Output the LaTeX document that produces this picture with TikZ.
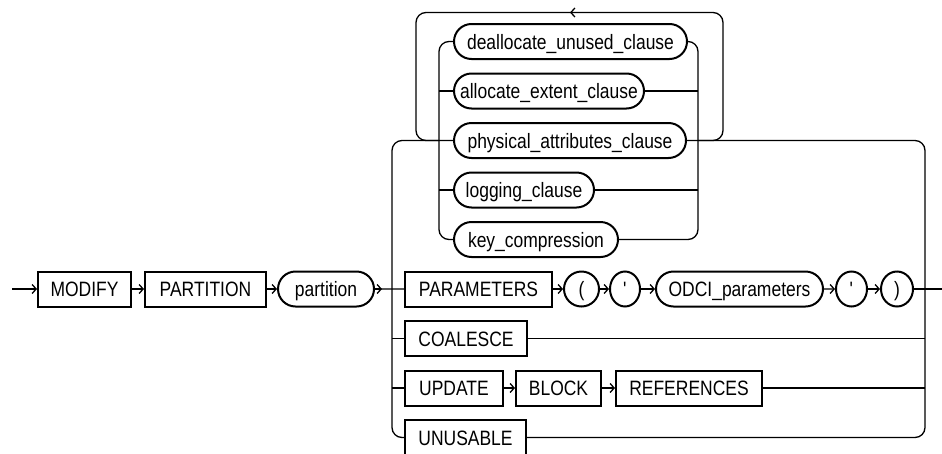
\documentclass[tikz,border=0pt]{standalone}
\usepackage{fontspec}
\setmainfont{Liberation Sans}[FakeStretch=0.84]
\usepackage{tikz}
\usetikzlibrary{positioning,arrows.meta,shapes.geometric,shapes.misc}

\begin{document}
\begin{tikzpicture}[x=1pt, y=-1pt,
  every node/.style={font=\fontsize{20.8}{21}\selectfont, text height=15pt, text depth=0pt,
    inner sep=0pt, minimum height=35pt, line width=2pt},
  kw/.style={draw, rectangle, anchor=west},
  nt/.style={draw, rounded rectangle, anchor=west},
  sym/.style={draw, ellipse, anchor=west},
  rail/.style={line width=1.3pt, rounded corners=10pt},
  tip/.style={-{Straight Barb[length=4pt,width=9pt]}}]
  \useasboundingbox (0,0) rectangle (942,453);

  % Rails
  \coordinate (start) at (12,289);
  \coordinate (end) at (942,289);
  \coordinate (lrail) at (392,0);
  \coordinate (rrail) at (925,0);
  \coordinate (ilrail) at (439,0);
  \coordinate (irrail) at (698,0);
  \coordinate (loopl) at (416,12.5);
  \coordinate (loopr) at (723,12.5);
  \coordinate (looptip) at (570,12.5);

  % Main row
  \node[kw, minimum width=93pt] (modify) at (37,289) {MODIFY};
  \node[kw, minimum width=121pt] (partkw) at (144,289) {PARTITION};
  \node[nt, minimum width=96pt] (partition) at (277,289) {partition};

  % Repeated clauses
  \node[nt, minimum width=233pt] (dealloc) at (453,41.5) {deallocate\_unused\_clause};
  \node[nt, minimum width=190pt] (allocate) at (453,91) {allocate\_extent\_clause};
  \node[nt, minimum width=232pt] (physical) at (453,140.5) {physical\_attributes\_clause};
  \node[nt, minimum width=140pt] (logging) at (453,190) {logging\_clause};
  \node[nt, minimum width=164pt] (keycomp) at (453,239.5) {key\_compression};

  % PARAMETERS branch
  \node[kw, minimum width=147pt] (params) at (404,289) {PARAMETERS};
  \node[sym, minimum width=35pt] (lparen) at (563,289) {(};
  \node[sym, minimum width=30pt] (quote1) at (609,289) {\textquotesingle};
  \node[nt, minimum width=167pt] (odci) at (655,289) {ODCI\_parameters};
  \node[sym, minimum width=31pt] (quote2) at (835,289) {\textquotesingle};
  \node[sym, minimum width=32pt] (rparen) at (880,289) {)};

  % Other branches
  \node[kw, minimum width=122pt] (coalesce) at (404,338.5) {COALESCE};
  \node[kw, minimum width=98pt] (update) at (404,388) {UPDATE};
  \node[kw, minimum width=85pt] (block) at (515,388) {BLOCK};
  \node[kw, minimum width=146pt] (references) at (615,388) {REFERENCES};
  \node[kw, minimum width=121pt] (unusable) at (404,437.5) {UNUSABLE};

  % Main line
  \draw[rail, tip] (start) -- (modify);
  \draw[rail, tip] (modify) -- (partkw);
  \draw[rail, tip] (partkw) -- (partition);
  \draw[rail] (partition) -- (params);
  \draw[rail, tip] (partition.east) -- ++(7,0);
  \draw[rail, tip] (params) -- (lparen);
  \draw[rail, tip] (lparen) -- (quote1);
  \draw[rail, tip] (quote1) -- (odci);
  \draw[rail, tip] (odci) -- (quote2);
  \draw[rail, tip] (quote2) -- (rparen);
  \draw[rail] (rparen) -- (end);

  % Outer choice
  \draw[rail] (unusable.west) -- (lrail |- unusable) -- (lrail |- physical) -- (physical.west);
  \draw[rail] (physical.east) -- (rrail |- physical) -- (rrail |- unusable) -- (unusable.east);
  \foreach \n in {coalesce, update}
    \draw[rail] (lrail |- \n) -- (\n.west);
  \draw[rail] (coalesce.east) -- (rrail |- coalesce);
  \draw[rail, tip] (update) -- (block);
  \draw[rail, tip] (block) -- (references);
  \draw[rail] (references.east) -- (rrail |- references);

  % Inner choice
  \draw[rail] (dealloc.west) -- (ilrail |- dealloc) -- (ilrail |- keycomp) -- (keycomp.west);
  \draw[rail] (dealloc.east) -- (irrail |- dealloc) -- (irrail |- keycomp) -- (keycomp.east);
  \foreach \n in {allocate, logging} {
    \draw[rail] (ilrail |- \n) -- (\n.west);
    \draw[rail] (\n.east) -- (irrail |- \n);
  }

  % Repeat loop
  \draw[rail] (irrail |- physical) -- (loopr |- physical) -- (loopr) -- (loopl)
    -- (loopl |- physical) -- (ilrail |- physical);
  \draw[line width=1.3pt, tip] ([xshift=8pt]looptip) -- (looptip);

\end{tikzpicture}
\end{document}
